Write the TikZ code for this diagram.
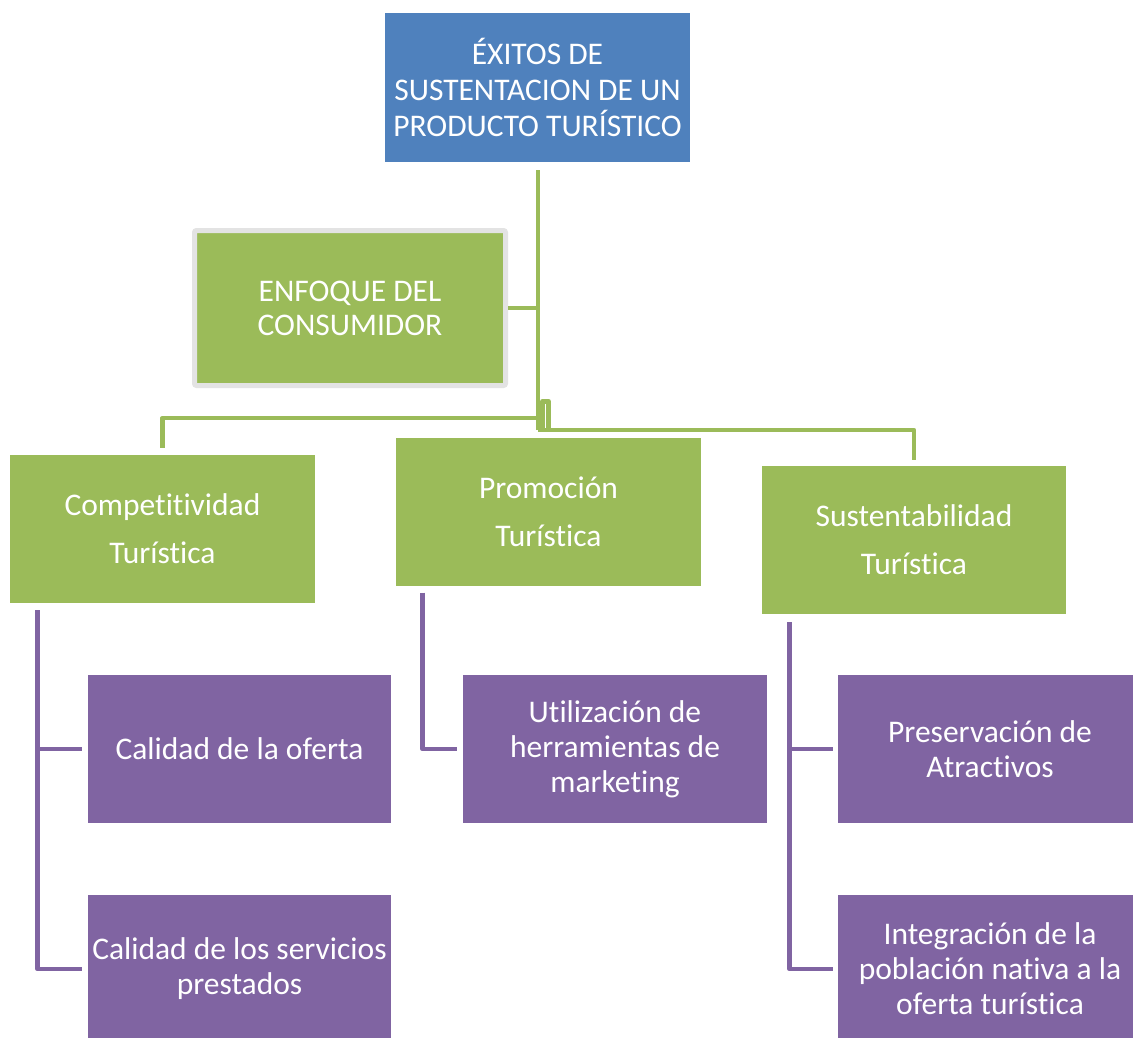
\documentclass[tikz,border=0pt]{standalone}
\usepackage{fontspec}
\setmainfont[Ligatures=NoCommon]{Carlito}
\usetikzlibrary{calc}
\definecolor{cblue}{HTML}{4F81BD}
\definecolor{cgreen}{HTML}{9BBB59}
\definecolor{cpurple}{HTML}{8064A2}
\definecolor{cgray}{HTML}{E3E3E3}
\begin{document}
\begin{tikzpicture}[x=1pt,y=-1pt,
  box/.style={rectangle, inner sep=0pt, text=white, align=center,
    font=\fontsize{31.5}{36}\selectfont, minimum width=305pt, minimum height=148pt},
  topbox/.style={box, fill=cblue, minimum height=149pt},
  enfbox/.style={box, fill=cgreen, draw=cgray, line width=5pt, rounded corners=2pt,
    minimum width=311pt, minimum height=155pt, font=\fontsize{31.5}{34}\selectfont},
  gbox/.style={box, fill=cgreen, font=\fontsize{31.5}{48}\selectfont},
  pbox/.style={box, fill=cpurple, minimum width=304pt, font=\fontsize{31.5}{35}\selectfont},
  gline/.style={draw=cgreen, line width=4.8pt, line join=round},
  pline/.style={draw=cpurple, line width=4.8pt, line join=round}
]
\useasboundingbox (0,0) rectangle (1133,1038);
\clip (0,0) rectangle (1133,1038);

% nodes
\node[topbox] (top) at (537.5,87.5) {ÉXITOS DE\\SUSTENTACION DE UN\\PRODUCTO TURÍSTICO};
\node[enfbox] (enf) at (350,308) {ENFOQUE DEL\\CONSUMIDOR};
\node[gbox] (comp) at (162.5,529) {Competitividad\\Turística};
\node[gbox] (prom) at (548.5,511.5) {Promoción\\Turística};
\node[gbox, minimum width=304pt] (sust) at (914,540) {Sustentabilidad\\Turística};
\node[pbox, minimum width=303pt] (cal1) at (239.5,749) {Calidad de la oferta};
\node[pbox, minimum width=303pt] (cal2) at (239.5,969) {Calidad de los servicios\\prestados};
\node[pbox] (util) at (615,749) {Utilización de\\herramientas de\\marketing};
\node[pbox] (pres) at (990,749) {Preservación de\\Atractivos};
\node[pbox] (integ) at (990,969) {Integración de la\\población nativa a la\\oferta turística};

% green connectors
\coordinate (bus) at (538,430);
\coordinate (lbus) at (538,418);
\coordinate (ej) at (538,308);
\draw[gline] ($(top.south)+(0.5,8)$) -- (bus);
\draw[gline] (enf.east) -- (ej);
\draw[gline] (lbus) -| ($(comp.north)+(0,-7)$);
\draw[gline] (bus) -| ($(sust.north)+(0,-6)$);
\draw[gline] ($(prom.north)+(-6,-8)$) |- ($(prom.north)+(0,-36)$) -- ($(prom.north)+(0,-8)$);

% purple connectors
\draw[pline] ($(comp.south west)+(28,7)$) |- ($(cal2.west)+(-6,0)$);
\draw[pline] ($(cal1.west)+(-6,0)$) -- ($(cal1.west)+(-50,0)$);
\draw[pline] ($(prom.south west)+(27,7)$) |- ($(util.west)+(-6,0)$);
\draw[pline] ($(sust.south west)+(28,8)$) |- ($(integ.west)+(-5,0)$);
\draw[pline] ($(pres.west)+(-5,0)$) -- ($(pres.west)+(-48,0)$);
\end{tikzpicture}
\end{document}
